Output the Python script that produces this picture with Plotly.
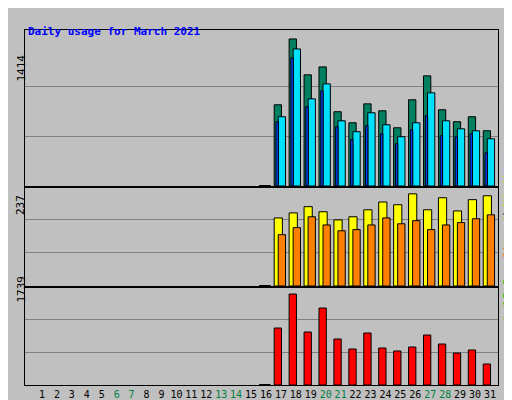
import plotly.graph_objects as go

days = list(range(1, 32))
weekend = [6, 7, 13, 14, 20, 21, 27, 28]

# March 2021, data starts on the 16th (which is zero)
hits = [0]*15 + [0, 781, 1414, 1069, 1145, 714, 608, 790, 723, 560, 829, 1059, 733, 618, 666, 531]
files = [0]*15 + [0, 666, 1318, 838, 982, 627, 522, 704, 589, 474, 608, 896, 627, 550, 531, 454]
pages = [0]*15 + [0, 618, 1232, 762, 915, 570, 445, 579, 502, 406, 541, 675, 483, 474, 502, 320]
visits = [0]*15 + [0, 175, 188, 204, 191, 170, 178, 196, 216, 209, 237, 196, 227, 193, 222, 232]
sites = [0]*15 + [0, 132, 150, 178, 157, 142, 145, 157, 175, 160, 168, 145, 157, 163, 173, 183]
kbytes = [0]*15 + [0, 1089, 1739, 1013, 1471, 879, 688, 994, 707, 650, 726, 955, 783, 611, 669, 401]

FONT = "DejaVu Sans Mono"
W, H = 512, 400
first = 16  # first day with data; earlier days get no bar


def d(y0, y1):
    return [1 - y1 / H, 1 - y0 / H]


def bars(vals, color, offset, width, xa, ya):
    xs = [x for x in days if x >= first]
    ys = [v for x, v in zip(days, vals) if x >= first]
    return go.Bar(x=xs, y=ys, offset=offset, width=width, xaxis=xa, yaxis=ya,
                  marker=dict(color=color, line=dict(color="black", width=1)),
                  showlegend=False)


fig = go.Figure()
fig.add_trace(bars(hits, "#008060", -0.45, 0.49, "x", "y"))
fig.add_trace(bars(files, "#00e0ff", -0.18, 0.49, "x", "y"))
fig.add_trace(bars(pages, "#0040ff", -0.33, 0.16, "x", "y"))
fig.add_trace(bars(visits, "#ffff00", -0.45, 0.55, "x2", "y2"))
fig.add_trace(bars(sites, "#ff8000", -0.18, 0.49, "x2", "y2"))
fig.add_trace(bars(kbytes, "#ff0000", -0.45, 0.49, "x3", "y3"))

xr = [-0.14, 31.54]
xdom = [17 / W, 490 / W]
ticktext = [f"<span style='color:#008040'>{x}</span>" if x in weekend else str(x) for x in days]
common_x = dict(range=xr, domain=xdom, showgrid=False, zeroline=False, fixedrange=True,
                showline=True, linecolor="black", mirror=True, automargin=False)
common_y = dict(showticklabels=False, gridcolor="#808080", zeroline=False, ticks="",
                showline=True, linecolor="black", mirror=True, automargin=False)

fig.update_layout(
    width=W, height=H, margin=dict(l=0, r=0, t=0, b=0, pad=0),
    paper_bgcolor="#c0c0c0", plot_bgcolor="#c0c0c0", barmode="overlay",
    font=dict(family=FONT, size=11, color="black"),
    xaxis=dict(common_x, anchor="y", showticklabels=False),
    xaxis2=dict(common_x, anchor="y2", showticklabels=False),
    xaxis3=dict(common_x, anchor="y3", tickvals=days, ticktext=ticktext,
                tickfont=dict(size=10), ticks="", tickangle=0),
    yaxis=dict(common_y, domain=d(22, 178), range=[0, 1500], tickvals=[476, 952], anchor="x"),
    yaxis2=dict(common_y, domain=d(180, 278), range=[0, 252], tickvals=[85, 170], anchor="x2"),
    yaxis3=dict(common_y, domain=d(280, 377), range=[0, 1854], tickvals=[624, 1248], anchor="x3"),
)

ann = [
    dict(x=18 / W, y=1 - 15 / H, text="<b>Daily usage for March 2021</b>",
         font=dict(color="#0000ff", size=11), xanchor="left"),
    dict(x=13 / W, y=1 - 45 / H, text=str(max(hits)), textangle=-90),
    dict(x=13 / W, y=1 - 197 / H, text=str(max(visits)), textangle=-90),
    dict(x=13 / W, y=1 - 297 / H, text=str(max(kbytes)), textangle=-90),
    dict(x=500 / W, y=1 - 84 / H, textangle=-90,
         text="<span style='color:#00e0ff'>Pages</span> / <span style='color:#0040ff'>Files</span>"
              " / <span style='color:#008060'>Hits</span>"),
    dict(x=500 / W, y=1 - 228 / H, textangle=-90,
         text="<span style='color:#00c000'>kB Out</span> <span style='color:#ff8000'>Sites</span>"
              " / <span style='color:#e0e000'>Visits</span>"),
    dict(x=500 / W, y=1 - 322 / H, textangle=-90,
         text="<span style='color:#ff0000'>kB F</span> / <span style='color:#4080ff'>kB In</span> / "
              "<span style='color:#00c000'>kB Out</span>"),
]
for a in ann:
    a.update(xref="paper", yref="paper", showarrow=False)
    a.setdefault("xanchor", "center")
fig.update_layout(annotations=ann)

# zero-value day shown as a flat black stroke, like the original
for xa, ya in (("x", "y"), ("x2", "y2"), ("x3", "y3")):
    fig.add_shape(type="line", xref=xa, yref=ya, x0=first - 0.45, x1=first + 0.3, y0=0, y1=0,
                  line=dict(color="black", width=2))

fig.write_html("out.html")
